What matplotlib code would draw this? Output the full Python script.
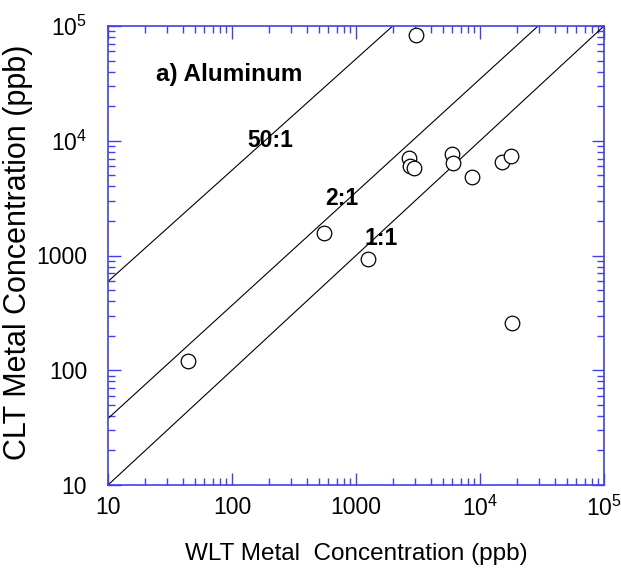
import matplotlib
matplotlib.use("Agg")
import matplotlib.pyplot as plt
from matplotlib.ticker import FixedLocator, LogLocator, NullFormatter

plt.rcParams['font.family'] = ['Liberation Sans', 'DejaVu Sans']
plt.rcParams['mathtext.fontset'] = 'custom'
plt.rcParams['mathtext.rm'] = 'Liberation Sans'

# Data: WLT vs CLT aluminum concentrations (ppb)
wlt = [44, 552, 1256, 18240, 3027, 2661, 2723, 2917, 5985, 6097, 8670, 15130, 17700]
clt = [121, 1574, 935, 260, 84000, 7115, 5985, 5740, 7656, 6440, 4800, 6530, 7360]

# Ratio reference lines (endpoints as drawn)
line_names = ["1:1", "2:1", "50:1"]
line_x = [[10, 1e5], [10, 29400], [10, 1977]]
line_y = [[10, 1e5], [38, 1e5], [594, 1e5]]
label_pos = [(1592, 1419), (771, 3170), (202, 10100)]

tick_vals = [10, 100, 1000, 1e4, 1e5]
tick_text = ["10", "100", "1000", r"$\mathregular{10^4}$", r"$\mathregular{10^5}$"]

blue = '#4040ee'

fig = plt.figure(figsize=(6.21, 5.71), dpi=100)
ax = fig.add_axes([108/621, 1-485/571, 496/621, 459/571])
ax.set_xscale('log')
ax.set_yscale('log')
ax.set_xlim(10, 1e5)
ax.set_ylim(10, 1e5)

for lx, ly in zip(line_x, line_y):
    ax.plot(lx, ly, color='black', lw=0.8, solid_capstyle='butt')

ax.plot(wlt, clt, linestyle='none', marker='o', markersize=10.5,
        markerfacecolor='white', markeredgecolor='black', markeredgewidth=0.9,
        zorder=3)

for name, (tx, ty) in zip(line_names, label_pos):
    ax.text(tx, ty, name, fontsize=16.5, fontweight='bold', ha='center', va='center', zorder=4)

ax.text(48/496, 1-49/459, "a) Aluminum", transform=ax.transAxes, fontsize=17.5,
        fontweight='bold', ha='left', va='center')

for sp in ax.spines.values():
    sp.set_color(blue)
    sp.set_linewidth(1.2)

for axis in (ax.xaxis, ax.yaxis):
    axis.set_major_locator(FixedLocator(tick_vals))
    axis.set_minor_locator(LogLocator(base=10, subs=range(2, 10), numticks=20))
    axis.set_minor_formatter(NullFormatter())
ax.set_xticks(tick_vals)
ax.set_xticklabels(tick_text)
ax.set_yticks(tick_vals)
ax.set_yticklabels(tick_text)

ax.tick_params(which='both', direction='in', top=True, right=True, color=blue,
               labelsize=16.5)
ax.tick_params(which='major', length=9, width=1.0, pad=8)
ax.tick_params(which='minor', length=5, width=1.0)
ax.tick_params(axis='y', which='major', pad=15)

ax.set_xlabel("WLT Metal  Concentration (ppb)", fontsize=17.5)
ax.xaxis.set_label_coords(0.5, -(560 - 485) / 459)
ax.xaxis.label.set_va('baseline')
ax.set_ylabel("CLT Metal Concentration (ppb)", fontsize=22)
ax.yaxis.set_label_coords(-(108 - 33) / 496, 1 - (252 - 26) / 459)

fig.savefig("out.png", dpi=100)
